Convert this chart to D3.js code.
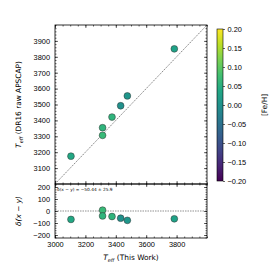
<!DOCTYPE html>
<html>
<head>
<meta charset="utf-8">
<script src="https://cdn.jsdelivr.net/npm/d3@7"></script>
<style>
  body { margin: 0; background: #fff; }
  svg { font-family: "DejaVu Sans", sans-serif; }
</style>
</head>
<body>
<div id="chart"></div>
<script>
// data
const teffThisWork = [3105, 3313, 3313, 3375, 3432, 3476, 3785];
const teffApogee   = [3175, 3306, 3354, 3421, 3492, 3554, 3850];
const fehValues    = [0.04, 0.07, 0.06, 0.06, 0.00, 0.01, 0.03];
const xTicks = [3000, 3200, 3400, 3600, 3800];
const yTicks = [3100, 3200, 3300, 3400, 3500, 3600, 3700, 3800, 3900];
const resTicks = [-200, -100, 0, 100, 200];
const cbTicks = [-0.20, -0.15, -0.10, -0.05, 0.00, 0.05, 0.10, 0.15, 0.20];
const annotation = "δ(x − y) = −50.44 ± 25.9";

const W = 274, H = 274;
const pLeft = 55, pRight = 207, pTop = 25, pMid = 184, pBottom = 238;

const svg = d3.select("#chart").append("svg")
  .attr("width", W).attr("height", H);

const x = d3.scaleLinear().domain([3000, 4000]).range([pLeft, pRight]);
const y = d3.scaleLinear().domain([3000, 4000]).range([pMid, pTop]);
const yr = d3.scaleLinear().domain([-225, 225]).range([pBottom, pMid]);
const color = d3.scaleSequential(d3.interpolateViridis).domain([-0.2, 0.2]);

const fs = 7.4;

// minor/major inward ticks on all sides
function frameAxes(g, xs, ys, xMaj, yMaj, xMin, yMin, showXLabels) {
  const x0 = xs.range()[0], x1 = xs.range()[1];
  const y0 = ys.range()[0], y1 = ys.range()[1];
  const ax = (gen, tr, vals, len, lab, pad) => {
    const a = g.append("g").attr("transform", tr)
      .call(gen.tickValues(vals).tickSizeInner(-len).tickSizeOuter(0).tickPadding(pad || 3)
        .tickFormat(lab ? d3.format("") : ""));
    a.select(".domain").remove();
    a.selectAll("line").attr("stroke", "#000").attr("stroke-width", 0.6);
    a.selectAll("text").attr("font-size", fs).attr("fill", "#000");
    return a;
  };
  ax(d3.axisBottom(xs), `translate(0,${y0})`, xMaj, 3, showXLabels, 4);
  ax(d3.axisBottom(xs), `translate(0,${y0})`, xMin, 1.5, false);
  ax(d3.axisTop(xs), `translate(0,${y1})`, xMaj, 3, false);
  ax(d3.axisTop(xs), `translate(0,${y1})`, xMin, 1.5, false);
  const yl = ax(d3.axisLeft(ys), `translate(${x0},0)`, yMaj, 3, true, 5);
  yl.selectAll("text").text(d => d < 0 ? "−" + Math.abs(d) : d);
  ax(d3.axisLeft(ys), `translate(${x0},0)`, yMin, 1.5, false);
  ax(d3.axisRight(ys), `translate(${x1},0)`, yMaj, 3, false);
  ax(d3.axisRight(ys), `translate(${x1},0)`, yMin, 1.5, false);
  g.append("rect").attr("x", x0).attr("y", y1)
    .attr("width", x1 - x0).attr("height", y0 - y1)
    .attr("fill", "none").attr("stroke", "#000").attr("stroke-width", 0.8);
}

const xMinor = d3.range(3000, 4001, 50);

// top panel
const gTop = svg.append("g");
gTop.append("line")
  .attr("x1", x(3000)).attr("y1", y(3000)).attr("x2", x(4000)).attr("y2", y(4000))
  .attr("stroke", "#333").attr("stroke-width", 0.6).attr("stroke-dasharray", "1.5,1");
frameAxes(gTop, x, y, xTicks, yTicks, xMinor, d3.range(3000, 4001, 20), false);
gTop.selectAll("circle.pt")
  .data(teffThisWork)
  .enter().append("circle")
  .attr("class", "pt")
  .attr("cx", d => x(d))
  .attr("cy", (d, i) => y(teffApogee[i]))
  .attr("r", 3.4)
  .attr("fill", (d, i) => color(fehValues[i]))
  .attr("stroke", "#333").attr("stroke-width", 0.5);

// residual panel
const gBot = svg.append("g");
gBot.append("line")
  .attr("x1", pLeft).attr("x2", pRight).attr("y1", yr(0)).attr("y2", yr(0))
  .attr("stroke", "#222").attr("stroke-width", 0.5).attr("stroke-dasharray", "1.5,1");
frameAxes(gBot, x, yr, xTicks, resTicks, xMinor, d3.range(-220, 221, 20), true);
gBot.selectAll("circle.pt")
  .data(teffThisWork)
  .enter().append("circle")
  .attr("class", "pt")
  .attr("cx", d => x(d))
  .attr("cy", (d, i) => yr(d - teffApogee[i]))
  .attr("r", 3.4)
  .attr("fill", (d, i) => color(fehValues[i]))
  .attr("stroke", "#333").attr("stroke-width", 0.5);

gBot.append("text")
  .attr("x", pLeft + 2).attr("y", pMid + 6.5)
  .attr("font-size", 4.3)
  .text(annotation);

// axis labels
const xl = svg.append("text")
  .attr("x", (pLeft + pRight) / 2).attr("y", 260)
  .attr("text-anchor", "middle").attr("font-size", fs);
xl.append("tspan").attr("font-style", "italic").text("T");
xl.append("tspan").attr("font-style", "italic").attr("font-size", 5).attr("dy", 1.5).text("eff");
xl.append("tspan").attr("dy", -1.5).text(" (This Work)");

const ylab = svg.append("text")
  .attr("transform", `translate(21,${(pTop + pMid) / 2}) rotate(-90)`)
  .attr("text-anchor", "middle").attr("font-size", fs);
ylab.append("tspan").attr("font-style", "italic").text("T");
ylab.append("tspan").attr("font-style", "italic").attr("font-size", 5).attr("dy", 1.5).text("eff");
ylab.append("tspan").attr("dy", -1.5).text(" (DR16 raw APSCAP)");

const rl = svg.append("text")
  .attr("transform", `translate(21,${(pMid + pBottom) / 2}) rotate(-90)`)
  .attr("text-anchor", "middle").attr("font-size", fs);
rl.append("tspan").attr("font-style", "italic").text("δ(x − y)");

// colorbar
const cbX = 217, cbW = 6, cbTop = 29, cbBot = 181;
const cb = d3.scaleLinear().domain([-0.2, 0.2]).range([cbBot, cbTop]);
const defs = svg.append("defs");
const grad = defs.append("linearGradient").attr("id", "vir")
  .attr("x1", 0).attr("y1", 1).attr("x2", 0).attr("y2", 0);
d3.range(0, 1.0001, 0.1).forEach(t => {
  grad.append("stop").attr("offset", t).attr("stop-color", d3.interpolateViridis(t));
});
svg.append("rect").attr("x", cbX).attr("y", cbTop)
  .attr("width", cbW).attr("height", cbBot - cbTop)
  .attr("fill", "url(#vir)").attr("stroke", "#000").attr("stroke-width", 0.6);
const cbAxis = svg.append("g").attr("transform", `translate(${cbX + cbW},0)`)
  .call(d3.axisRight(cb).tickValues(cbTicks).tickSize(2).tickPadding(2.5)
    .tickFormat(d => (d < 0 ? "−" : "") + Math.abs(d).toFixed(2)));
cbAxis.select(".domain").remove();
cbAxis.selectAll("line").attr("stroke", "#000").attr("stroke-width", 0.6);
cbAxis.selectAll("text").attr("font-size", fs).attr("fill", "#000");

svg.append("text")
  .attr("transform", `translate(267,${(cbTop + cbBot) / 2}) rotate(-90)`)
  .attr("text-anchor", "middle").attr("font-size", fs)
  .text("[Fe/H]");
</script>
</body>
</html>
